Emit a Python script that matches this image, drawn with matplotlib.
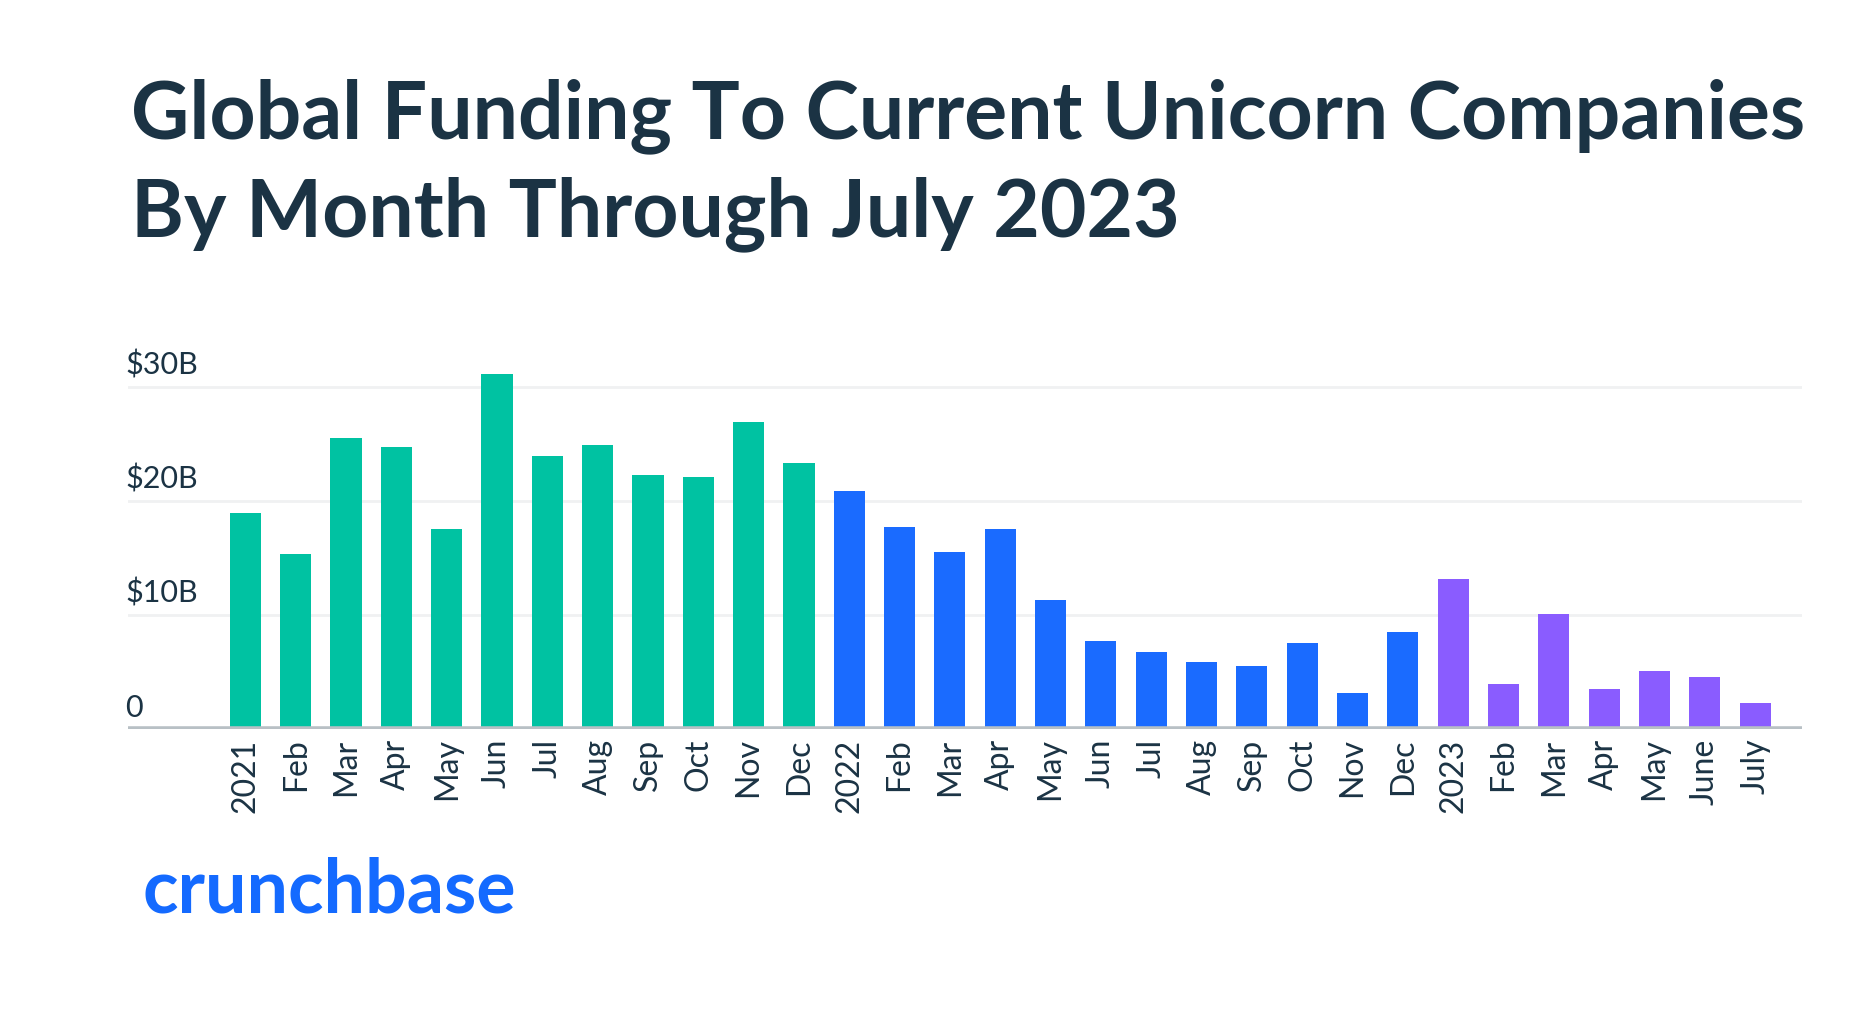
import matplotlib
matplotlib.use("Agg")
import matplotlib.pyplot as plt
import matplotlib.transforms as mtransforms

# data (billions USD)
months = ["2021", "Feb", "Mar", "Apr", "May", "Jun", "Jul", "Aug", "Sep", "Oct", "Nov", "Dec",
          "2022", "Feb", "Mar", "Apr", "May", "Jun", "Jul", "Aug", "Sep", "Oct", "Nov", "Dec",
          "2023", "Feb", "Mar", "Apr", "May", "June", "July"]
funding = [18.9, 15.3, 25.5, 24.7, 17.5, 31.1, 23.9, 24.9, 22.3, 22.1, 26.9, 23.3,
           20.9, 17.7, 15.5, 17.5, 11.3, 7.7, 6.7, 5.9, 5.5, 7.5, 3.1, 8.5,
           13.1, 3.9, 10.1, 3.5, 5.1, 4.5, 2.3]
years = [2021] * 12 + [2022] * 12 + [2023] * 7
yticks = [0, 10, 20, 30]
ytick_labels = ["0", "$10B", "$20B", "$30B"]

year_colors = {2021: "#00c2a2", 2022: "#1a6bff", 2023: "#8a5cff"}
navy = "#1b3344"

plt.rcParams['font.family'] = ['Lato', 'DejaVu Sans']

fig = plt.figure(figsize=(18.64, 10.28), dpi=100, facecolor='white')
ax = fig.add_axes([0.0687, 0.2911, 0.898, 0.3548])

x = list(range(len(months)))
ax.bar(x, funding, width=0.62, color=[year_colors[y] for y in years], zorder=3)

ax.set_xlim(-2.33, 30.93)
ax.set_ylim(0, 32)

# light gridlines + heavy grey baseline
for v in yticks[1:]:
    ax.axhline(v, color='#f0f1f2', lw=2, zorder=1)
ax.axhline(0, color='#b8c0c5', lw=4, zorder=4)

# y labels sit above their gridline, left aligned
trans = mtransforms.blended_transform_factory(ax.transAxes, ax.transData)
for v, lab in zip(yticks, ytick_labels):
    ax.annotate(lab, xy=(0, v), xycoords=trans, xytext=(-2, 5), textcoords='offset points',
                ha='left', va='bottom', fontsize=22, color=navy)

ax.set_xticks(x)
ax.set_xticklabels(months, rotation=90, fontsize=23, color=navy)
ax.tick_params(axis='x', length=0, pad=7)
ax.set_yticks([])
for s in ax.spines.values():
    s.set_visible(False)

fig.text(0.0703, 0.865, "Global Funding To Current Unicorn Companies", fontsize=58,
         fontweight='bold', color=navy, ha='left', va='baseline')
fig.text(0.0703, 0.770, "By Month Through July 2023", fontsize=58,
         fontweight='bold', color=navy, ha='left', va='baseline')

fig.text(0.0765, 0.112, "crunchbase", fontsize=53, fontweight='bold', color='#146aff',
         ha='left', va='baseline')

fig.savefig("out.png", dpi=100, facecolor='white')
